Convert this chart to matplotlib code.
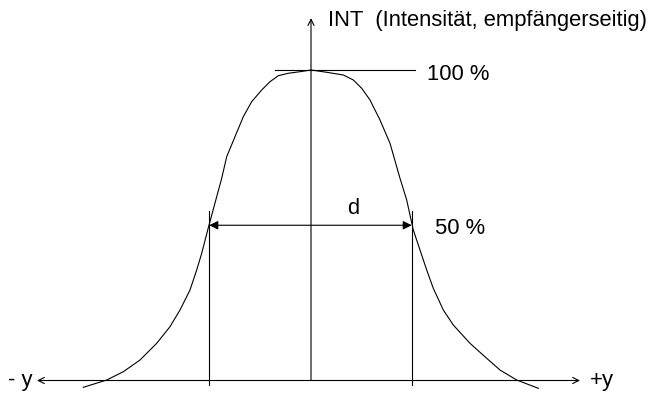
import matplotlib
matplotlib.use("Agg")
import matplotlib.pyplot as plt

plt.rcParams['font.family'] = ['Liberation Sans', 'DejaVu Sans']

# lateral position (arbitrary units, 0 = beam centre) and intensity in %
pos = [-227.7, -204.3, -187.7, -171, -154.3, -141, -131, -121, -114.3,
       -109.3, -103.3, -94.3, -89.3, -84.3, -76, -67.7, -59.3, -49.3,
       -41, -32.7, -22.7, -11, 0,
       15.7, 32.3, 42.3, 50.7, 59, 69, 79, 89, 95.7, 102.3, 109,
       115.7, 122.3, 132.3, 142.3, 159, 175.7, 189, 205.7, 227.3]
intensity = [-2.19, 0.16, 2.83, 6.60, 11.98, 17.33, 22.71, 29.15, 35.59,
             40.97, 48.47, 59.19, 65.12, 72.08, 78.52, 84.96, 89.79, 93.56,
             96.23, 98.16, 98.94, 99.45, 100,
             99.26, 98.39, 96.78, 94.11, 90.34, 83.90, 76.39, 65.12, 58.13,
             48.47, 42.03, 35.59, 29.69, 22.71, 17.87, 11.98, 7.15, 3.38,
             0.16, -2.51]

half_left, half_right = -101.7, 100.7
level_full, level_half = 100, 50

fig = plt.figure(figsize=(6.53, 3.96), dpi=100)
ax = fig.add_axes([0, 0, 1, 1])
ax.set_xlim(-311, 342)
ax.set_ylim(-4.99, 122.54)
ax.axis('off')

lw = 0.8
ax.plot(pos, intensity, color='black', lw=lw, solid_joinstyle='round')

# axes with open arrow heads
ax.annotate('', xy=(-274, 0), xytext=(269, 0),
            arrowprops=dict(arrowstyle='<->', lw=lw, color='black',
                            mutation_scale=11, shrinkA=0, shrinkB=0))
ax.annotate('', xy=(0, 116.7), xytext=(0, 0),
            arrowprops=dict(arrowstyle='->', lw=lw, color='black',
                            mutation_scale=11, shrinkA=0, shrinkB=0))

# 100 % line
ax.plot([-36, 104], [level_full, level_full], color='black', lw=lw)

# 50 % verticals and width arrow
for x in (half_left, half_right):
    ax.plot([x, x], [-1.5, 54.7], color='black', lw=lw)
ax.annotate('', xy=(half_left, level_half), xytext=(half_right, level_half),
            arrowprops=dict(arrowstyle='<|-|>', lw=lw, color='black',
                            mutation_scale=13, shrinkA=0, shrinkB=0))

fs = 15.8
ax.text(17, 115.8, 'INT  (Intensität, empfängerseitig)', fontsize=fs, va='center', ha='left')
ax.text(116, 98.4, '100 %', fontsize=fs, va='center', ha='left')
ax.text(124, 49.1, '50 %', fontsize=fs, va='center', ha='left')
ax.text(42, 55.4, 'd', fontsize=fs, va='center', ha='center')
ax.text(-303, 0, '- y', fontsize=fs, va='center', ha='left')
ax.text(279, 0, '+y', fontsize=fs, va='center', ha='left')

fig.savefig('out.png', dpi=100)
